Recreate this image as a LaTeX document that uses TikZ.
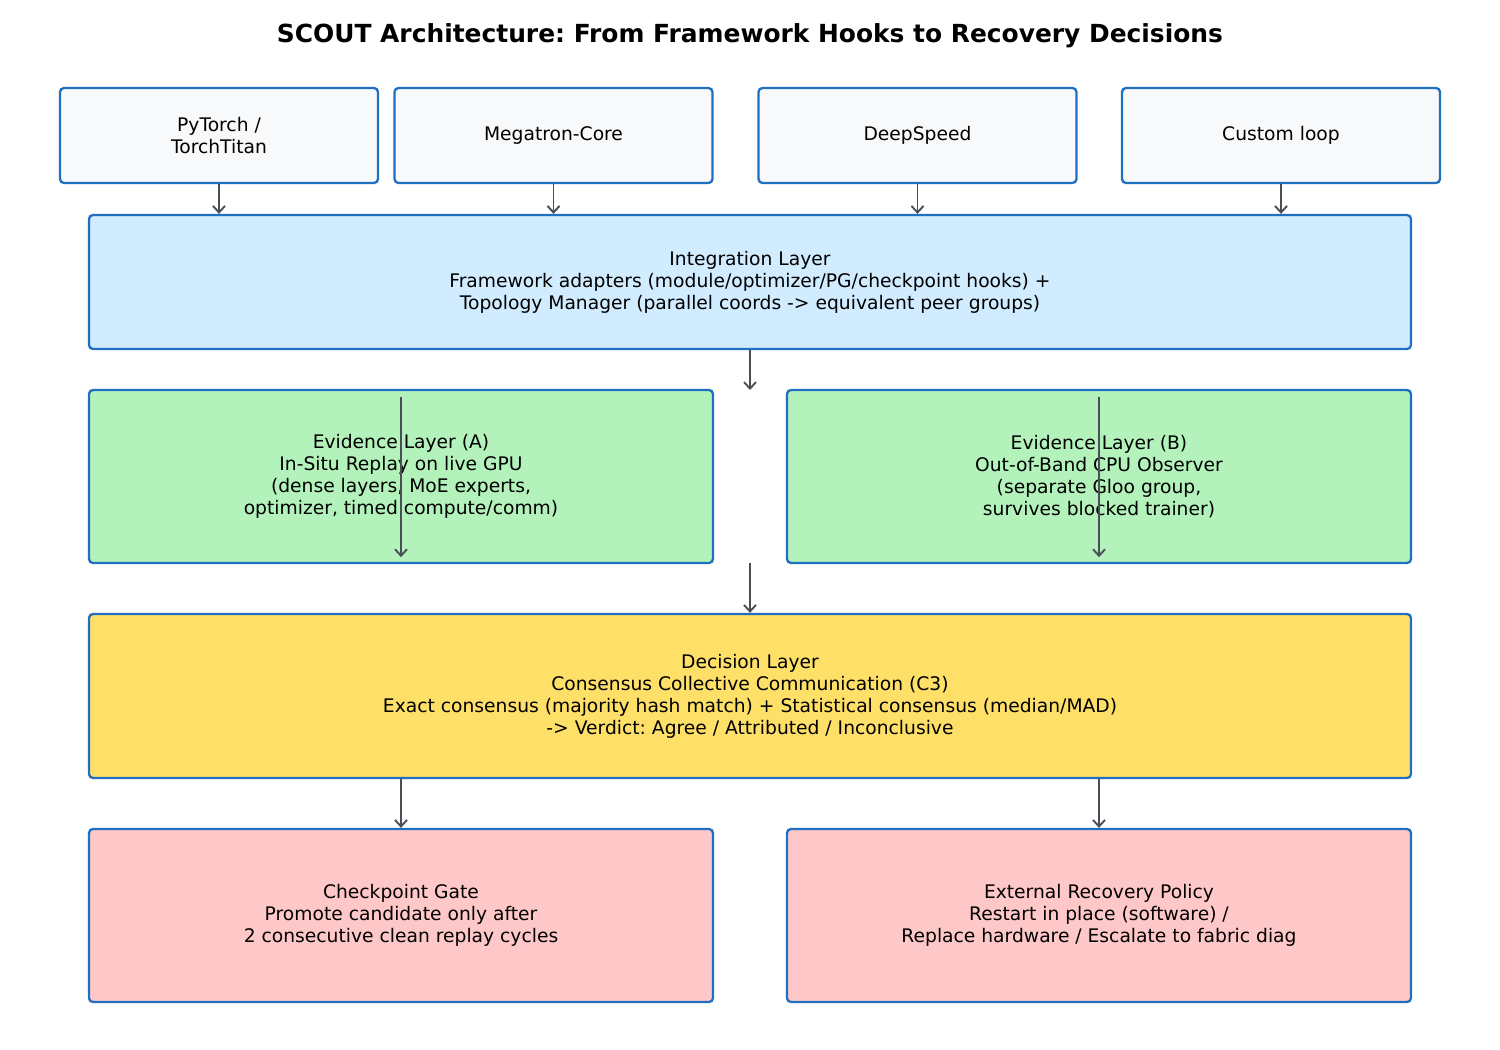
\documentclass[tikz,border=0pt]{standalone}
\usepackage{fontspec}
\setmainfont{DejaVu Sans}
\usetikzlibrary{arrows.meta}
\frenchspacing
\definecolor{bordc}{HTML}{1F70C1}
\definecolor{arrc}{HTML}{4A4F57}
\definecolor{ftop}{HTML}{F8F9FB}
\definecolor{finteg}{HTML}{D1EBFF}
\definecolor{fevid}{HTML}{B3F3BB}
\definecolor{fdec}{HTML}{FEE068}
\definecolor{fbot}{HTML}{FFC8C8}
\tikzset{
  box/.style={draw=bordc, line width=2.3pt, rounded corners=4pt, align=center,
    inner sep=0pt, font=\fontsize{18.7}{22}\selectfont, text=black},
  arr/.style={draw=arrc, line width=1.9pt, -{Straight Barb[length=6.5pt,width=12pt,line width=1.9pt]}},
}
\begin{document}
\begin{tikzpicture}[x=1pt,y=-1pt]
\useasboundingbox (0,0) rectangle (1500,1050);
\node[font=\bfseries\fontsize{24.9}{28}\selectfont] (title) at (750,36) {SCOUT Architecture: From Framework Hooks to Recovery Decisions};

\node[box, fill=ftop, minimum width=318pt, minimum height=95pt] (pt) at (219,135.5) {PyTorch /\\TorchTitan};
\node[box, fill=ftop, minimum width=318pt, minimum height=95pt] (mc) at (553.5,135.5) {Megatron-Core};
\node[box, fill=ftop, minimum width=318pt, minimum height=95pt] (ds) at (917.5,135.5) {DeepSpeed};
\node[box, fill=ftop, minimum width=318pt, minimum height=95pt] (cl) at (1281,135.5) {Custom loop};

\node[box, fill=finteg, minimum width=1322pt, minimum height=134pt] (integ) at (750,282) {Integration Layer\\Framework adapters (module/optimizer/PG/checkpoint hooks) +\\Topology Manager (parallel coords -> equivalent peer groups)};

\node[box, fill=fevid, minimum width=624pt, minimum height=173pt] (evA) at (401,476.5) {Evidence Layer (A)\\In-Situ Replay on live GPU\\(dense layers, MoE experts,\\optimizer, timed compute/comm)};
\node[box, fill=fevid, minimum width=624pt, minimum height=173pt] (evB) at (1099,476.5) {Evidence Layer (B)\\Out-of-Band CPU Observer\\(separate Gloo group,\\survives blocked trainer)};

\node[box, fill=fdec, minimum width=1322pt, minimum height=164pt] (dec) at (750,696) {Decision Layer\\Consensus Collective Communication (C3)\\Exact consensus (majority hash match) + Statistical consensus (median/MAD)\\-> Verdict: Agree / Attributed / Inconclusive};

\node[box, fill=fbot, minimum width=624pt, minimum height=173pt] (cg) at (401,915.5) {Checkpoint Gate\\Promote candidate only after\\2 consecutive clean replay cycles};
\node[box, fill=fbot, minimum width=624pt, minimum height=173pt] (erp) at (1099,915.5) {External Recovery Policy\\Restart in place (software) /\\Replace hardware / Escalate to fabric diag};

\foreach \n in {pt,mc,ds,cl} \draw[arr] (\n.south) -- (\n.south |- integ.north);
\coordinate (ia) at (750,390);
\draw[arr] (integ.south) -- (ia);
\coordinate (aS) at ([yshift=-8pt]evA.north);
\coordinate (aE) at ([yshift=7pt]evA.south);
\coordinate (bS) at ([yshift=-8pt]evB.north);
\coordinate (bE) at ([yshift=7pt]evB.south);
\draw[arr] (aS) -- (aE);
\draw[arr] (bS) -- (bE);
\coordinate (ed) at (750,563);
\draw[arr] (ed) -- (ed |- dec.north);
\draw[arr] (dec.south -| cg.north) -- (cg.north);
\draw[arr] (dec.south -| erp.north) -- (erp.north);
\end{tikzpicture}
\end{document}
